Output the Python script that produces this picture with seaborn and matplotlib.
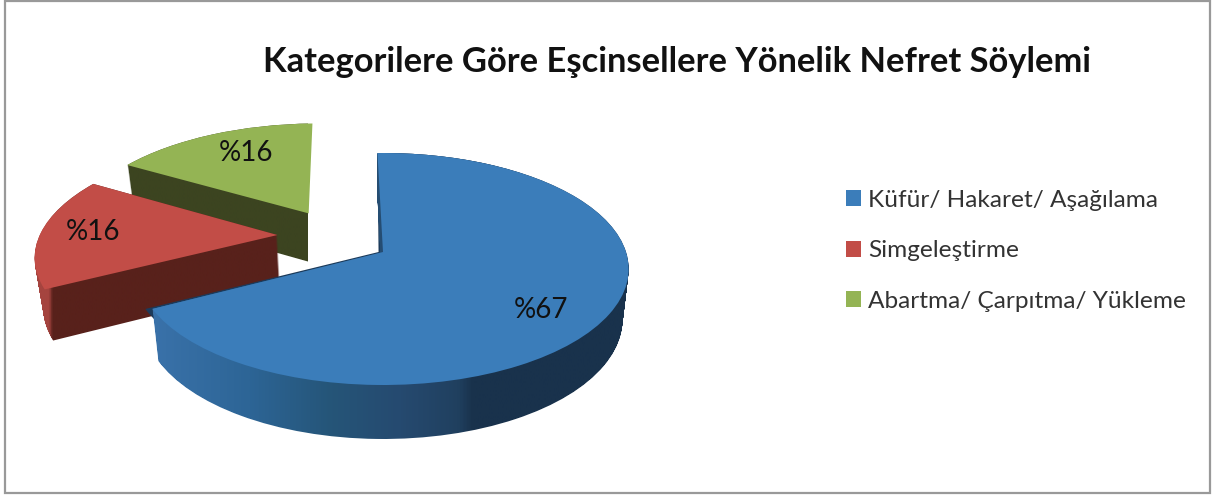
import numpy as np
import seaborn as sns
import matplotlib
matplotlib.use("Agg")
import matplotlib.pyplot as plt
from matplotlib.colors import LinearSegmentedColormap
from matplotlib.patches import Rectangle
from matplotlib.path import Path
from matplotlib.transforms import Affine2D, Transform

title = "Kategorilere Göre Eşcinsellere Yönelik Nefret Söylemi"
categories = ["Küfür/ Hakaret/ Aşağılama", "Simgeleştirme", "Abartma/ Çarpıtma/ Yükleme"]
values = [67, 16, 16]
top_colors = ["#3b7dba", "#c24d47", "#94b454"]
side_stops = [
    [(0.0, "#3a72aa"), (0.2, "#2d6596"), (0.37, "#255578"), (0.51, "#264a70"), (0.63, "#20405f"), (0.66, "#19324c"), (1.0, "#19324c")],
    [(0.0, "#a5443f"), (0.07, "#a5443f"), (0.085, "#58211b"), (1.0, "#58211b")],
    [(0.0, "#3c4420"), (1.0, "#3c4420")],
]
apex_offsets = [(0, 0), (-0.444, 0.153), (-0.322, 0.358)]
label_pos = [(541, 310), (93, 232), (246, 153)]

W, H = 1214, 496
CX, CY = 383, 252
DEPTH = 50


class Tilt(Transform):
    """Perspective view of the unit pie, output in picture pixels"""
    input_dims = 2
    output_dims = 2

    def transform_non_affine(self, values):
        x, y = np.asarray(values).T
        w = 1 + 0.1466 * y
        return np.column_stack([CX + 243 * x / w, CY - 113.5 * y / w])


def layer(t):
    # one slice of the extrusion, t=0 is the top face and t=1 the bottom
    s, v = 1 - 0.025 * t, 1 + 0.03 * t
    return Affine2D.from_values(s, 0, 0, v, CX * (1 - s), CY * (1 - v) + DEPTH * t)


sns.set_theme(style="white")
plt.rcParams["font.family"] = ["Lato", "DejaVu Sans"]

fig = plt.figure(figsize=(W / 100, H / 100), dpi=100, facecolor="white")
ax = fig.add_axes([0, 0, 1, 1])
palette = sns.color_palette(top_colors)
wedges, _ = ax.pie(values, colors=palette, startangle=91.5, counterclock=False)
ax.set_aspect("auto")

tilt = Tilt()
spans = [(150, 640), (30, 290), (120, 308)]

# painter's order: back slice first
for z, i in enumerate([2, 1, 0]):
    w = wedges[i]
    w.set_center(apex_offsets[i])
    w.set_zorder(3 * z + 3)
    w.set_linewidth(0)
    w.set_transform(tilt + ax.transData)

    top = w.get_path().transformed(tilt)
    sweep = Path.make_compound_path(*[top.transformed(layer(t)) for t in np.linspace(0, 1, DEPTH + 1)])
    cmap = LinearSegmentedColormap.from_list(f"side{i}", side_stops[i])
    x0, x1 = spans[i]
    img = ax.imshow(np.linspace(0, 1, 400).reshape(1, -1), cmap=cmap, vmin=0, vmax=1, aspect="auto",
                    extent=(x0, x1, H, 0), zorder=3 * z + 2, interpolation="bilinear")
    img.set_clip_path(sweep, transform=ax.transData)

# thin inner face of the big slice, next to its upper cut
inner = ax.pie([values[0], sum(values[1:])], colors=["#1c3a5a", "none"], startangle=91.5, counterclock=False)[0][0]
inner.set_linewidth(0)
inner.set_zorder(7)
inner.set_transform(tilt + Affine2D.from_values(1, 0, -0.045, 1, 6.9, 0) + ax.transData)
inner.set_clip_path(Rectangle((0, 0), W, CY, transform=ax.transData))
for extra in ax.patches[4:]:
    extra.set_visible(False)

for val, (lx, ly) in zip(values, label_pos):
    ax.text(lx, ly, f"%{val}", fontsize=20, color="#111111", ha="center", va="center", zorder=20)

ax.text(677, 62, title, fontsize=24.8, fontweight="bold", color="#111111", ha="center", va="center", zorder=20)

ax.legend(wedges, categories, loc="upper left", bbox_to_anchor=(846 / W, 1 - 190 / H), frameon=False,
          fontsize=17.6, labelcolor="#333333", handlelength=0.62, handleheight=0.62, handletextpad=0.3,
          labelspacing=1.2, borderpad=0, borderaxespad=0)

ax.add_patch(Rectangle((5, 1), W - 9, H - 4, fill=False, edgecolor="#999999", linewidth=1.6, zorder=30))
ax.set_xlim(0, W)
ax.set_ylim(H, 0)
ax.axis("off")

fig.savefig("out.png", dpi=100)
